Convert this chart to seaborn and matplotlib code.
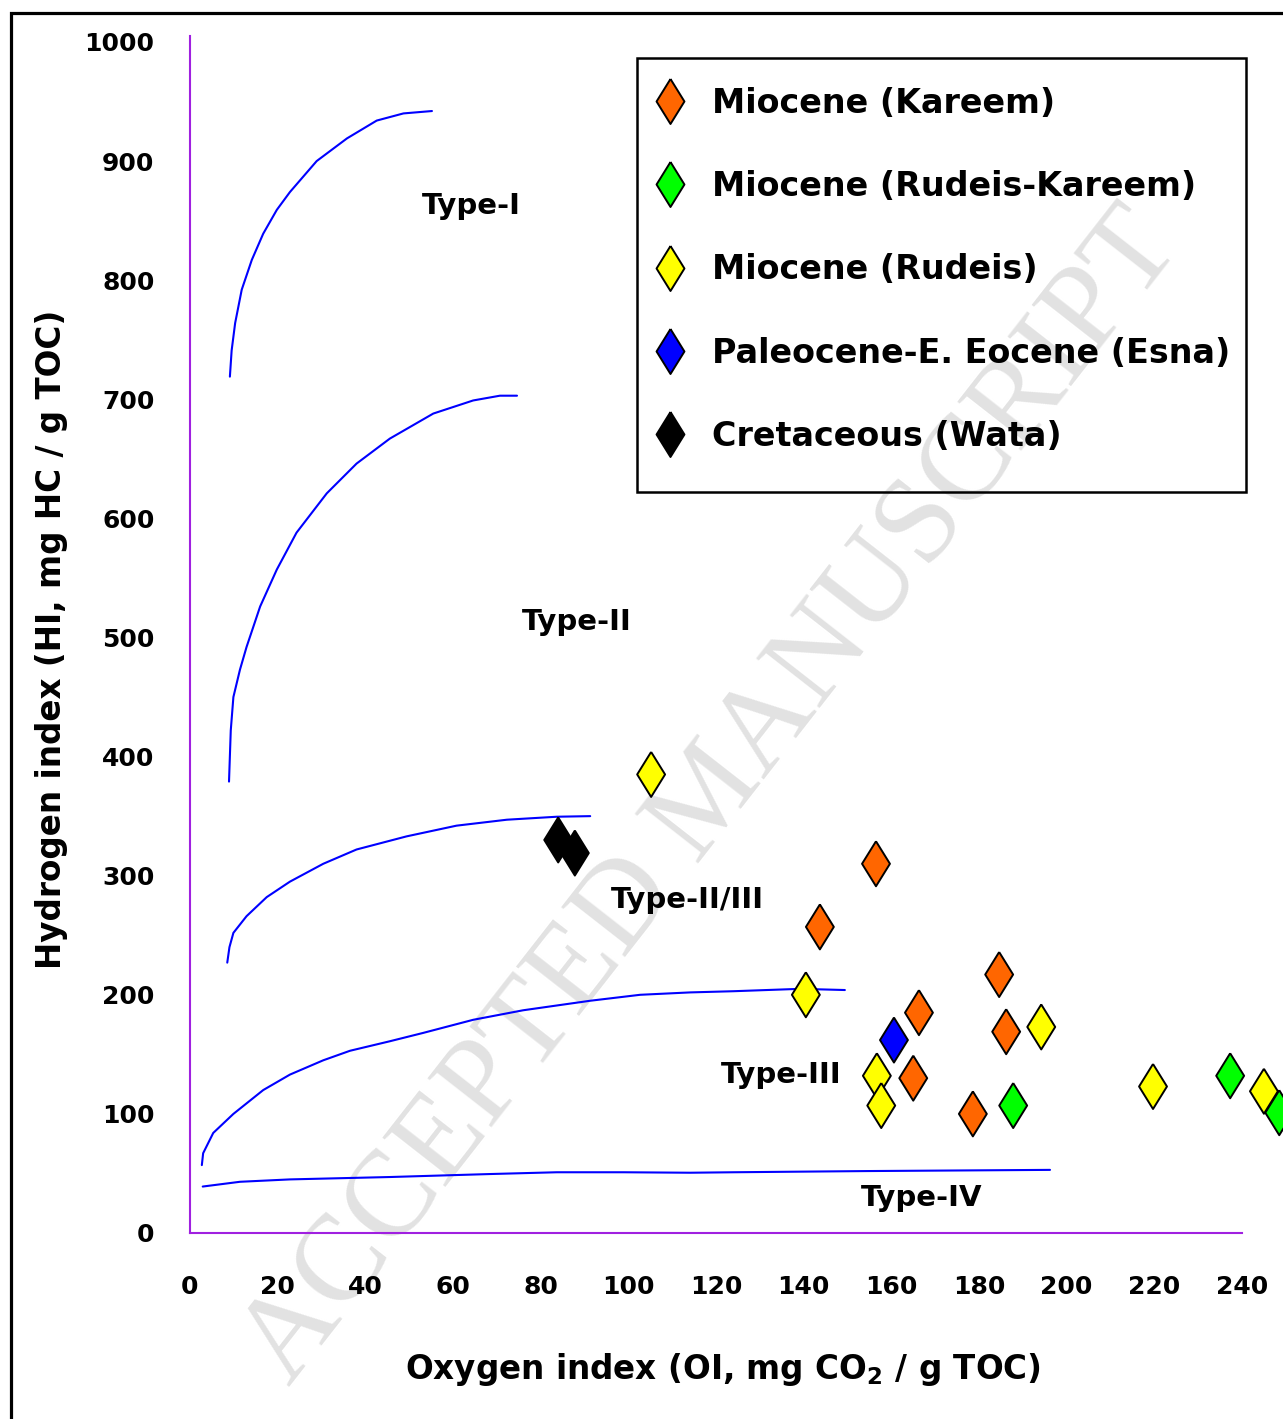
import pandas as pd
import seaborn as sns
import matplotlib as mpl
import matplotlib.pyplot as plt
from matplotlib.lines import Line2D
from matplotlib.patches import Rectangle

sns.set_style("white")
mpl.rcParams['font.family'] = ['DejaVu Sans']
mpl.rcParams['mathtext.fontset'] = 'custom'
mpl.rcParams['mathtext.rm'] = 'DejaVu Sans:bold'
mpl.rcParams['mathtext.bf'] = 'DejaVu Sans:bold'
mpl.rcParams['text.color'] = 'black'
mpl.rcParams['axes.labelcolor'] = 'black'
mpl.rcParams['xtick.labelcolor'] = 'black'
mpl.rcParams['ytick.labelcolor'] = 'black'

# kerogen type boundary curves (OI, HI)
type1_oi = [9.1, 9.5, 10.3, 11.8, 14.1, 16.7, 19.8, 22.8, 28.9, 35.8, 42.6, 48.7, 55.2]
type1_hi = [719, 741, 764, 792, 817, 839, 859, 874, 900, 919, 934, 940, 942]
type2_oi = [8.9, 9.3, 9.9, 11.4, 12.9, 16.0, 19.8, 24.3, 31.2, 38.0, 45.6, 55.5, 64.6, 70.7, 74.6]
type2_hi = [379, 422, 450, 473, 492, 526, 557, 588, 621, 646, 667, 688, 699, 703, 703]
type23_oi = [8.5, 9.0, 9.9, 12.9, 17.5, 22.8, 30.4, 38.0, 49.4, 60.8, 72.3, 83.7, 91.3]
type23_hi = [227, 240, 252, 266, 282, 295, 310, 322, 333, 342, 347, 349.5, 350]
type3_oi = [2.7, 3.0, 5.3, 9.9, 16.7, 22.8, 30.4, 36.5, 45.6, 53.2, 64.6, 76.0, 91.3, 102.7, 114.1, 124.0, 139.2, 149.4]
type3_hi = [57, 67, 84, 100, 120, 133, 145, 153, 161, 168, 179, 187, 195, 200, 202, 203, 205, 204]
type4_oi = [2.9, 11.4, 22.8, 45.6, 68.4, 83.7, 98.9, 114.1, 124.0, 154.4, 196.2]
type4_hi = [39, 43, 45, 47, 49.5, 51, 51, 50.6, 51, 52, 53]

# samples
kareem_oi = [156.5, 143.7, 184.6, 166.3, 186.2, 165.0, 178.6]
kareem_hi = [310, 257, 217, 185, 169, 130, 100]
rk_oi = [187.8, 237.3, 248.5]
rk_hi = [107, 132, 101]
rudeis_oi = [105.2, 140.5, 194.2, 156.7, 157.7, 219.7, 245.0]
rudeis_hi = [385, 200, 173, 132, 107, 123, 119]
esna_oi = [160.6]
esna_hi = [162]
wata_oi = [84.0, 87.8]
wata_hi = [330, 319]

groups = ['Miocene (Kareem)', 'Miocene (Rudeis-Kareem)', 'Miocene (Rudeis)',
          'Paleocene-E. Eocene (Esna)', 'Cretaceous (Wata)']
colors = ['#FF6600', '#00FF00', '#FFFF00', '#0000FF', '#000000']

type_labels = ['Type-I', 'Type-II', 'Type-II/III', 'Type-III', 'Type-IV']
label_oi = [64.3, 88.3, 113.4, 135.0, 166.8]
label_hi = [862, 513, 280, 133, 29]

df = pd.concat([
    pd.DataFrame({'OI': kareem_oi, 'HI': kareem_hi, 'group': groups[0]}),
    pd.DataFrame({'OI': rk_oi, 'HI': rk_hi, 'group': groups[1]}),
    pd.DataFrame({'OI': rudeis_oi, 'HI': rudeis_hi, 'group': groups[2]}),
    pd.DataFrame({'OI': esna_oi, 'HI': esna_hi, 'group': groups[3]}),
    pd.DataFrame({'OI': wata_oi, 'HI': wata_hi, 'group': groups[4]}),
], ignore_index=True)
pal = dict(zip(groups, colors))

# tall diamond, a bit wider than matplotlib's 'd'
diamond = [(0, 1), (0.62, 0), (0, -1), (-0.62, 0), (0, 1)]

W, H = 1283, 1419
fig = plt.figure(figsize=(W / 100, H / 100), dpi=100)
fig.patch.set_facecolor('white')
ax = fig.add_axes([190 / W, 1 - 1233 / H, (1242 - 190) / W, (1233 - 36) / H])
ax.set_facecolor('none')

# watermark behind everything
fig.text(712 / W, 1 - 798 / H, 'ACCEPTED MANUSCRIPT', family='Liberation Serif',
         fontsize=88, color='#E2E2E2', rotation=52, ha='center', va='center',
         rotation_mode='anchor', zorder=-1)

for cx, cy in [(type1_oi, type1_hi), (type2_oi, type2_hi), (type23_oi, type23_hi),
               (type3_oi, type3_hi), (type4_oi, type4_hi)]:
    sns.lineplot(x=cx, y=cy, sort=False, estimator=None, color='#0000FF', lw=1.5, ax=ax, zorder=2)

sns.scatterplot(data=df, x='OI', y='HI', hue='group', palette=pal, marker=diamond, s=1050,
                edgecolor='black', linewidth=1.4, legend=False, clip_on=False, zorder=5, ax=ax)

for t, x, y in zip(type_labels, label_oi, label_hi):
    ax.text(x, y, t, fontsize=21, fontweight='bold', ha='center', va='center', zorder=4)

ax.set_xlim(0, 240)
ax.set_ylim(0, 1005)
ax.set_xticks(range(0, 241, 20))
ax.set_yticks(range(0, 1001, 100))
for s in ['top', 'right']:
    ax.spines[s].set_visible(False)
for s in ['left', 'bottom']:
    ax.spines[s].set_color('#A020E0')
    ax.spines[s].set_linewidth(1.5)
ax.tick_params(axis='both', direction='out', length=14.5, width=1.2, color='red',
               labelsize=18, labelcolor='black')
ax.tick_params(axis='x', pad=16)
ax.tick_params(axis='y', pad=11)
ax.xaxis.get_major_ticks()[0].tick1line.set_visible(False)
for lb in ax.get_xticklabels() + ax.get_yticklabels():
    lb.set_fontweight('bold')

ax.set_xlabel('Oxygen index (OI, mg CO$_{2}$ / g TOC)', fontsize=23.5, fontweight='bold',
              va='center', color='black')
ax.xaxis.set_label_coords((723 - 190) / 1052, (1233 - 1370) / 1197)
ax.set_ylabel('Hydrogen index (HI, mg HC / g TOC)', fontsize=23.5, fontweight='bold',
              va='center', color='black')
ax.yaxis.set_label_coords((52 - 190) / 1052, (1233 - 639) / 1197)

handles = [Line2D([], [], marker=diamond, linestyle='none', markerfacecolor=c,
                  markeredgecolor='black', markeredgewidth=1.4, markersize=32.4)
           for c in colors]
leg = fig.legend(handles, groups, loc='upper left', bbox_to_anchor=(633 / W, 1 - 70 / H),
                 frameon=False, borderpad=0, handlelength=1.2, handletextpad=0.66,
                 labelspacing=1.51, prop={'size': 24, 'weight': 'bold'})
for t in leg.get_texts():
    t.set_color('black')
fig.add_artist(Rectangle((637 / W, 1 - 492 / H), (1246 - 637) / W, (492 - 58) / H,
                         transform=fig.transFigure, fill=False, ec='black', lw=1.8))

# outer frame
fig.add_artist(Rectangle((10.7 / W, -0.1), 1.2, 1 - 13.3 / H + 0.1,
                         transform=fig.transFigure, fill=False, ec='black', lw=2.3))

fig.savefig('out.png', dpi=100)
